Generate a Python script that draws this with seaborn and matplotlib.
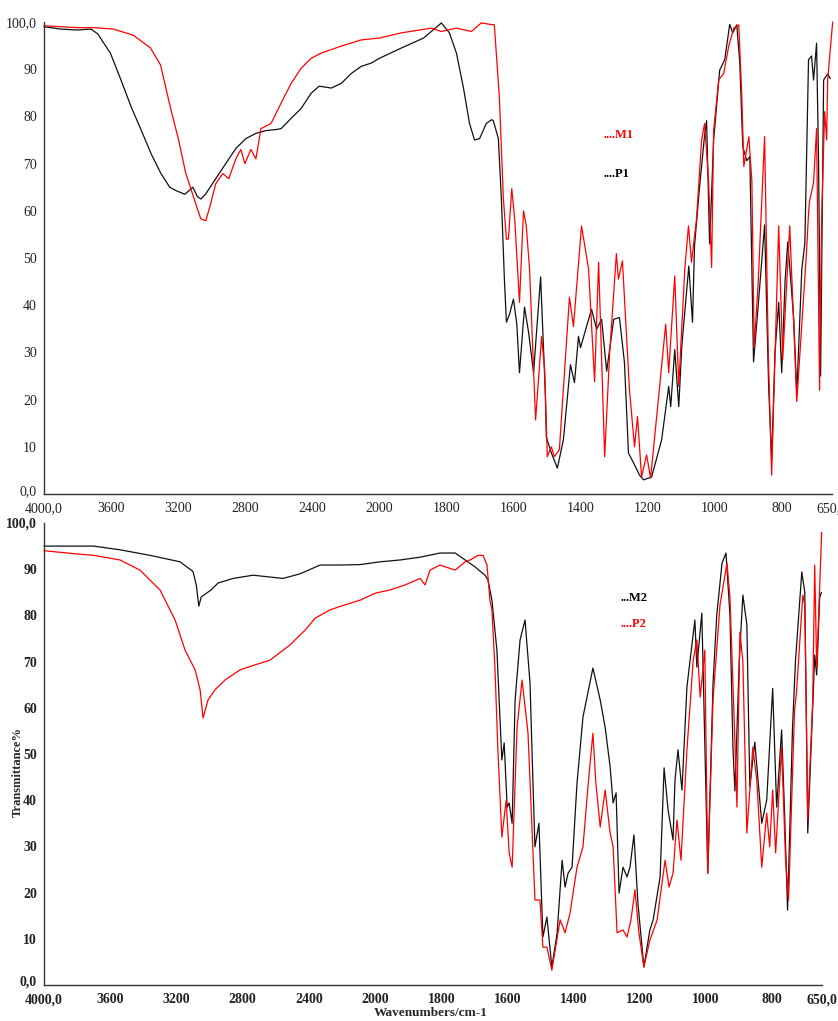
import numpy as np
import pandas as pd
import matplotlib
matplotlib.use("Agg")
import matplotlib.pyplot as plt
import matplotlib.transforms as mtransforms
import seaborn as sns

# ---------------- data (wavenumber cm-1, transmittance %) ----------------
p1_wn = [4000, 3900, 3800, 3720, 3680, 3604, 3544, 3480, 3424, 3360, 3304, 3250, 3214, 3160, 3112,
         3085, 3064, 3035, 2976, 2916, 2856, 2796, 2736, 2676, 2620, 2586, 2526, 2466, 2407, 2359,
         2320, 2287, 2227, 2167, 2108, 2048, 2000, 1934, 1868, 1840, 1815, 1791, 1770, 1749, 1731,
         1716, 1701, 1681, 1665, 1660, 1645, 1636, 1627, 1621, 1612, 1600, 1590, 1582, 1567, 1555,
         1540, 1519, 1505, 1502, 1487, 1469, 1451, 1430, 1418, 1406, 1400, 1380, 1367, 1352, 1337,
         1322, 1301, 1284, 1269, 1257, 1239, 1224, 1212, 1188, 1158, 1137, 1131, 1119, 1107, 1098,
         1077, 1066, 1060, 1045, 1030, 1024, 1015, 1003, 985, 970, 955, 946, 934, 925, 916,
         904, 895, 884, 870, 851, 839, 830, 820, 809, 800, 790, 782, 764, 755, 740,
         731, 720, 711, 705, 696, 690, 684, 675, 663, 655]
p1_t = [99.0, 98.5, 98.3, 98.5, 97.5, 93.4, 88.0, 82.0, 77.4, 72.0, 68.0, 65.0, 64.3, 63.5, 65.0,
        63.0, 62.5, 63.6, 66.8, 70.0, 73.2, 75.3, 76.4, 77.0, 77.2, 77.4, 79.6, 81.7, 84.9, 86.4,
        86.2, 86.0, 87.0, 89.1, 90.6, 91.3, 92.3, 94.5, 96.6, 98.3, 99.8, 97.7, 93.4, 86.0, 78.5,
        75.0, 75.3, 78.5, 79.3, 79.1, 75.3, 62.6, 45.5, 36.4, 38.0, 41.3, 36.0, 25.7, 39.6, 34.3,
        25.7, 46.0, 21.5, 12.1, 8.7, 5.5, 11.5, 27.4, 23.6, 33.4, 31.0, 36.0, 39.1, 34.9, 37.0,
        26.0, 37.0, 37.4, 27.9, 8.7, 6.2, 4.0, 3.0, 3.6, 11.5, 22.8, 18.5, 30.6, 18.5, 31.3,
        48.3, 36.4, 52.6, 65.0, 76.0, 79.1, 53.0, 75.0, 89.8, 92.0, 99.5, 97.7, 99.4, 91.3, 73.6,
        70.6, 71.5, 28.0, 40.0, 57.0, 22.8, 7.2, 30.0, 40.6, 25.7, 45.0, 53.4, 37.0, 21.3, 47.7,
        53.0, 92.0, 92.8, 87.7, 95.5, 70.0, 25.0, 87.7, 89.0, 88.0]

m1_wn = [4000, 3900, 3800, 3700, 3586, 3467, 3365, 3305, 3245, 3197, 3155, 3095, 3065, 3035, 3006,
         2976, 2934, 2898, 2856, 2826, 2802, 2766, 2736, 2706, 2646, 2586, 2526, 2466, 2407, 2347,
         2227, 2108, 2000, 1934, 1845, 1815, 1770, 1725, 1696, 1670, 1657, 1642, 1630, 1621, 1615,
         1605, 1596, 1582, 1570, 1562, 1552, 1534, 1516, 1507, 1499, 1487, 1478, 1463, 1433, 1421,
         1397, 1376, 1358, 1346, 1328, 1313, 1293, 1287, 1275, 1254, 1239, 1230, 1218, 1203, 1191,
         1167, 1146, 1137, 1119, 1107, 1089, 1078, 1069, 1054, 1039, 1030, 1018, 1009, 1003, 988,
         973, 958, 943, 928, 919, 913, 898, 889, 882, 870, 851, 840, 830, 809, 797,
         776, 755, 726, 720, 717, 705, 696, 687, 681, 672, 666, 663, 648]
m1_t = [99.2, 99.0, 98.8, 98.8, 98.5, 97.2, 94.5, 90.9, 81.7, 75.0, 68.0, 61.5, 58.3, 57.9, 61.5,
        65.7, 67.9, 66.8, 71.0, 73.0, 70.0, 73.0, 71.0, 77.4, 78.5, 82.8, 87.0, 90.2, 92.3, 93.4,
        94.9, 96.2, 96.6, 97.7, 98.7, 98.0, 98.7, 98.0, 99.8, 99.5, 99.4, 84.0, 62.6, 54.0, 54.0,
        64.7, 58.0, 40.6, 60.0, 57.0, 47.7, 15.7, 33.4, 26.4, 7.9, 10.0, 7.9, 9.4, 41.7, 35.5,
        56.8, 47.7, 23.8, 49.1, 7.9, 30.0, 50.9, 45.5, 49.4, 22.1, 10.0, 16.4, 3.6, 8.3, 3.4,
        20.6, 36.0, 25.7, 46.2, 22.8, 47.7, 56.8, 49.1, 58.3, 74.9, 78.5, 66.4, 48.0, 77.0, 87.7,
        89.1, 94.9, 98.7, 99.4, 84.3, 69.4, 75.7, 66.4, 31.0, 45.0, 75.7, 30.0, 4.0, 56.8, 28.5,
        56.8, 19.6, 51.3, 59.4, 62.0, 66.0, 77.4, 22.0, 58.0, 81.0, 75.0, 87.7, 100.0]

m2_wn = [4000, 3900, 3800, 3700, 3541, 3360, 3178, 3100, 3080, 3065, 3050, 2991, 2949, 2858, 2737,
         2556, 2453, 2332, 2211, 2090, 1985, 1924, 1864, 1804, 1758, 1728, 1698, 1668, 1659, 1647,
         1632, 1617, 1610, 1601, 1595, 1586, 1577, 1562, 1547, 1532, 1523, 1517, 1505, 1493, 1481,
         1466, 1450, 1435, 1426, 1417, 1405, 1390, 1372, 1342, 1320, 1305, 1290, 1281, 1272, 1263,
         1251, 1239, 1230, 1218, 1206, 1188, 1170, 1160, 1139, 1127, 1115, 1100, 1094, 1085, 1073,
         1058, 1034, 1028, 1013, 995, 979, 968, 952, 940, 928, 919, 913, 900, 889, 877,
         868, 853, 832, 817, 799, 787, 772, 763, 754, 739, 730, 711, 702, 693, 672,
         666, 657, 652]
m2_t = [95.0, 95.0, 95.0, 95.0, 94.2, 93.0, 91.6, 89.5, 86.6, 82.0, 84.0, 85.5, 87.0, 88.0, 88.7,
        88.0, 89.0, 90.9, 90.9, 91.0, 91.6, 92.0, 92.6, 93.5, 93.5, 92.0, 90.5, 88.7, 87.7, 83.3,
        72.5, 48.7, 52.4, 38.5, 39.4, 35.0, 61.7, 74.7, 79.0, 65.4, 43.7, 29.9, 35.0, 10.4, 14.7,
        3.9, 11.3, 27.0, 21.2, 24.2, 25.5, 43.7, 58.0, 68.6, 61.7, 55.8, 47.2, 39.4, 41.6, 19.9,
        25.5, 23.4, 25.5, 32.5, 17.7, 3.9, 11.9, 14.1, 23.4, 47.0, 37.9, 31.4, 44.4, 50.9, 42.2,
        64.5, 79.0, 68.8, 80.5, 24.2, 65.6, 80.0, 91.3, 93.5, 80.0, 51.3, 42.0, 70.0, 84.4, 78.0,
        42.9, 52.6, 35.0, 40.0, 64.2, 38.5, 55.2, 37.2, 16.2, 55.8, 70.3, 89.4, 85.0, 32.9, 71.4,
        67.1, 83.8, 85.0]

p2_wn = [4000, 3800, 3700, 3541, 3420, 3299, 3208, 3148, 3087, 3057, 3039, 3009, 2967, 2907, 2816,
         2725, 2635, 2514, 2423, 2362, 2272, 2181, 2090, 2000, 1955, 1909, 1864, 1849, 1834, 1804,
         1758, 1728, 1713, 1689, 1674, 1662, 1653, 1647, 1638, 1629, 1617, 1604, 1595, 1586, 1571,
         1556, 1538, 1517, 1502, 1493, 1481, 1466, 1441, 1426, 1411, 1390, 1372, 1357, 1342, 1333,
         1320, 1305, 1290, 1281, 1269, 1251, 1239, 1227, 1215, 1203, 1188, 1170, 1148, 1124, 1112,
         1100, 1088, 1076, 1058, 1039, 1028, 1018, 1004, 995, 979, 958, 937, 928, 913, 907,
         898, 889, 877, 859, 847, 832, 817, 808, 799, 790, 772, 760, 751, 733, 727,
         708, 702, 693, 678, 672, 666, 651]
p2_t = [94.0, 93.3, 93.0, 92.0, 89.8, 85.5, 79.0, 72.5, 68.2, 63.9, 57.8, 61.7, 63.9, 66.0, 68.2,
        69.3, 70.3, 73.6, 76.8, 79.4, 81.2, 82.3, 83.3, 84.8, 85.5, 86.6, 88.0, 86.6, 89.8, 90.9,
        89.8, 91.6, 92.0, 93.0, 93.0, 90.9, 83.3, 81.2, 68.8, 50.9, 32.0, 40.0, 28.6, 25.5, 55.8,
        66.0, 54.5, 18.4, 18.4, 8.2, 8.2, 3.2, 14.1, 11.3, 15.6, 25.5, 29.9, 42.9, 54.5, 43.7,
        34.2, 42.2, 32.9, 29.9, 11.3, 11.9, 10.4, 14.1, 20.6, 11.3, 3.9, 9.7, 14.1, 27.0, 21.2,
        24.2, 35.7, 27.0, 50.9, 70.3, 74.7, 62.3, 72.5, 24.2, 62.0, 82.3, 91.3, 83.8, 52.6, 38.5,
        76.4, 70.0, 32.9, 51.5, 44.4, 25.5, 37.2, 29.9, 42.2, 28.6, 51.5, 27.0, 18.4, 59.5, 63.4,
        84.4, 82.3, 35.7, 61.7, 90.9, 68.6, 98.0]

x_ticks = [4000, 3600, 3200, 2800, 2400, 2000, 1800, 1600, 1400, 1200, 1000, 800, 650]
x_tick_labels = ["4000,0", "3600", "3200", "2800", "2400", "2000", "1800", "1600",
                 "1400", "1200", "1000", "800", "650,0"]
y_ticks = [0, 10, 20, 30, 40, 50, 60, 70, 80, 90, 100]
y_tick_labels = ["0,0", "10", "20", "30", "40", "50", "60", "70", "80", "90", "100,0"]

# ---------------- style ----------------
sns.set_style("white")
plt.rcParams["font.family"] = ["Liberation Serif", "DejaVu Serif"]
plt.rcParams["axes.linewidth"] = 1.0

RED = "#ff0000"
BLACK = "#111111"


def fwd(x):
    x = np.asarray(x, dtype=float)
    return np.where(x > 2000, 2000 + (x - 2000) / 2.0, x)


def inv(t):
    t = np.asarray(t, dtype=float)
    return np.where(t > 2000, 2000 + (t - 2000) * 2.0, t)


fig = plt.figure(figsize=(8.38, 10.21), dpi=100)
ax1 = fig.add_axes([44 / 838, (1021 - 494) / 1021, (832 - 44) / 838, (494 - 22) / 1021])
ax2 = fig.add_axes([44 / 838, (1021 - 985) / 1021, (822 - 44) / 838, (985 - 523) / 1021])


def draw(ax, series, bold):
    for wn, t, col in series:
        df = pd.DataFrame({"wn": wn, "T": t})
        sns.lineplot(data=df, x="wn", y="T", ax=ax, color=col, lw=0.9,
                     sort=False, estimator=None, clip_on=False)
    ax.set_xscale("function", functions=(fwd, inv))
    ax.set_xlim(4000, 650)
    ax.set_ylim(0, 100)
    ax.set_xticks(x_ticks)
    ax.set_xticklabels(x_tick_labels, fontsize=10, fontweight="bold" if bold else "normal")
    ax.set_yticks(y_ticks)
    ax.set_yticklabels(y_tick_labels, fontsize=10, fontweight="bold" if bold else "normal")
    ax.minorticks_off()
    ax.tick_params(axis="x", direction="in", length=4, width=0.8, pad=6, colors="#222222")
    ax.tick_params(axis="y", direction="out", length=3, width=0.8, pad=2, colors="#222222")
    # lift the "0,0" label slightly so it clears the first x label
    lab0 = ax.get_yticklabels()[0]
    lab0.set_transform(lab0.get_transform() +
                       mtransforms.ScaledTranslation(0, 4 / 100, fig.dpi_scale_trans))
    ax.set_xlabel("")
    ax.set_ylabel("")
    sns.despine(ax=ax)
    for s in ("left", "bottom"):
        ax.spines[s].set_color("#333333")
    ax.grid(False)


draw(ax1, [(p1_wn, p1_t, BLACK), (m1_wn, m1_t, RED)], bold=False)
draw(ax2, [(m2_wn, m2_t, BLACK), (p2_wn, p2_t, RED)], bold=True)

# legend-like labels
fig.text(603 / 838, 1 - 135 / 1021, "....M1", color=RED, fontsize=9, fontweight="bold", va="center")
fig.text(603 / 838, 1 - 174 / 1021, "....P1", color="black", fontsize=9, fontweight="bold", va="center")
fig.text(620 / 838, 1 - 598 / 1021, "...M2", color="black", fontsize=9, fontweight="bold", va="center")
fig.text(620 / 838, 1 - 624 / 1021, "....P2", color=RED, fontsize=9, fontweight="bold", va="center")

fig.text(18 / 838, 1 - 772 / 1021, "Transmittance%", rotation=90, fontsize=9,
         fontweight="bold", ha="center", va="center")
fig.text(431 / 838, 1 - 1013 / 1021, "Wavenumbers/cm-1", fontsize=9.5,
         fontweight="bold", ha="center", va="center")

fig.savefig("out.png", dpi=100)
